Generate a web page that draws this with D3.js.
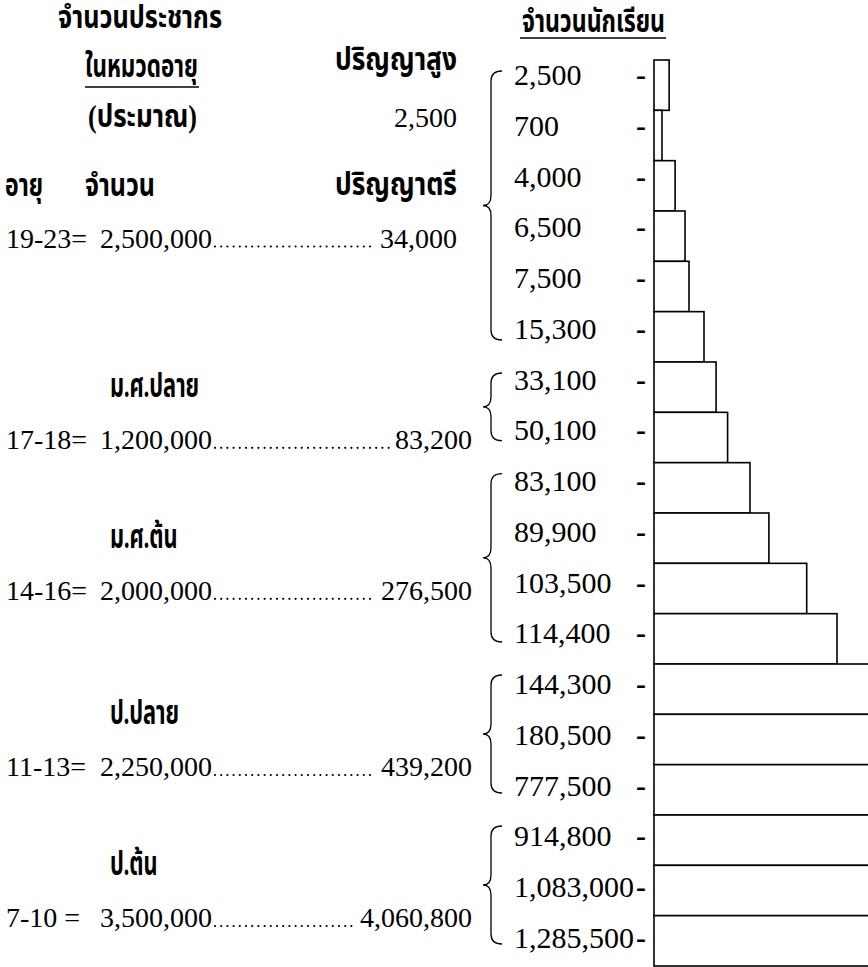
<!DOCTYPE html>
<html>
<head>
<meta charset="utf-8">
<script src="https://cdn.jsdelivr.net/npm/d3@7/dist/d3.min.js"></script>
<style>
	body { margin: 0; background: #fff; }
	text { fill: #000; font-family: "Liberation Serif", "Times New Roman", "Norasi", "Noto Serif Thai", "Noto Sans Thai", serif; }
	.th { font-family: "Liberation Serif", "Noto Sans Thai", "Noto Serif Thai", "Norasi", "Loma", "Garuda", sans-serif; font-weight: bold; }
</style>
</head>
<body>
<svg id="chart" width="868" height="967"></svg>
<script>
// จำนวนนักเรียน แต่ละชั้น (บนลงล่าง)
const students = [2500, 700, 4000, 6500, 7500, 15300, 33100, 50100, 83100, 89900,
	103500, 114400, 144300, 180500, 777500, 914800, 1083000, 1285500];
// วงเล็บปีกกา: แถวแรก-แถวสุดท้าย ของแต่ละกลุ่ม
const braceGroups = [[0, 5], [6, 7], [8, 11], [12, 14], [15, 17]];
// ตารางด้านซ้าย
const ageRanges = ["19-23=", "17-18=", "14-16=", "11-13=", "7-10 ="];
const population = [2500000, 1200000, 2000000, 2250000, 3500000];
const levels = ["ปริญญาตรี", "ม.ศ.ปลาย", "ม.ศ.ต้น", "ป.ปลาย", "ป.ต้น"];
const levelTotals = [34000, 83200, 276500, 439200, 4060800];
const postGrad = 2500;

const fmt = d3.format(",");
const svg = d3.select("#chart");

// rows
const rows = d3.range(students.length);
const yBar = d3.scaleBand().domain(rows).range([60, 966]).paddingInner(0);
const yLab = d3.scalePoint().domain(rows).range([85, 948]);
// the drawing uses a hand-made, non-linear width scale
const x = d3.scaleLinear()
	.domain([0, 700, 7500, 15300, 83100, 114400, 144300])
	.range([0, 8, 35, 50, 96, 183, 260]);
const barLeft = 654;

svg.append("g")
	.selectAll("rect")
	.data(students)
	.enter()
	.append("rect")
	.attr("x", barLeft)
	.attr("y", (d, i) => yBar(i))
	.attr("width", (d) => x(d))
	.attr("height", yBar.bandwidth())
	.attr("fill", "#fff")
	.attr("stroke", "#000")
	.attr("stroke-width", 1.6);

const lab = svg.append("g").attr("font-size", 30);
lab.selectAll("text.v")
	.data(students)
	.enter()
	.append("text")
	.attr("class", "v")
	.attr("x", 514)
	.attr("y", (d, i) => yLab(i))
	.text((d) => fmt(d));
lab.selectAll("text.dash")
	.data(students)
	.enter()
	.append("text")
	.attr("class", "dash")
	.attr("x", 636)
	.attr("y", (d, i) => yLab(i))
	.attr("font-weight", "bold")
	.text("-");

// braces
function bracePath(y0, y1) {
	const xe = 502, xs = 491, xt = 483, r = 10;
	const ym = (y0 + y1) / 2;
	return `M${xe},${y0} Q${xs},${y0} ${xs},${y0 + r} L${xs},${ym - r} Q${xs},${ym} ${xt},${ym}` +
		` Q${xs},${ym} ${xs},${ym + r} L${xs},${y1 - r} Q${xs},${y1} ${xe},${y1}`;
}
const braceTop = (g) => yBar(g[0]) + 11;
const braceBot = (g) => yBar(g[1]) + yBar.bandwidth() - 22;
const braceMid = braceGroups.map((g) => (braceTop(g) + braceBot(g)) / 2);
svg.append("g")
	.selectAll("path")
	.data(braceGroups)
	.enter()
	.append("path")
	.attr("d", (g) => bracePath(braceTop(g), braceBot(g)))
	.attr("fill", "none")
	.attr("stroke", "#000")
	.attr("stroke-width", 1.3);

// headers (thai text is drawn narrow, like the original typeface)
function th(t, xx, yy, len, anchor) {
	const el = svg.append("text").attr("class", "th")
		.attr("x", xx).attr("y", yy).attr("font-size", 31)
		.attr("text-anchor", anchor || "start").text(t);
	if (len) el.attr("textLength", len).attr("lengthAdjust", "spacingAndGlyphs");
	return el;
}
th("จำนวนประชากร", 58, 28, 164);
th("ในหมวดอายุ", 85, 77, 113);
svg.append("line").attr("x1", 85).attr("x2", 199).attr("y1", 87).attr("y2", 87)
	.attr("stroke", "#000").attr("stroke-width", 1.5);
th("(ประมาณ)", 88, 127, 109).attr("font-weight", "normal");
th("ปริญญาสูง", 335, 70, 122);
svg.append("text").attr("x", 457).attr("y", 127).attr("font-size", 28)
	.attr("text-anchor", "end").text(fmt(postGrad));
th("อายุ", 5, 196, 38);
th("จำนวน", 85, 196, 70);
th(levels[0], 335, 195, 122);
th("จำนวนนักเรียน", 522, 32, 143);
svg.append("line").attr("x1", 520).attr("x2", 666).attr("y1", 38).attr("y2", 38)
	.attr("stroke", "#000").attr("stroke-width", 1.5);

// left table rows
const left = svg.append("g").attr("font-size", 28);
ageRanges.forEach((a, i) => {
	const yy = braceMid[i] + 42;
	const right = i === 0 ? 457 : 472;
	left.append("text").attr("x", 6).attr("y", yy).text(a);
	const p = left.append("text").attr("x", 100).attr("y", yy).text(fmt(population[i]));
	const v = left.append("text").attr("x", right).attr("y", yy)
		.attr("text-anchor", "end").text(fmt(levelTotals[i]));
	const x0 = 100 + p.node().getComputedTextLength() + 3;
	const x1 = right - v.node().getComputedTextLength() - 5;
	left.append("line").attr("x1", x0).attr("x2", x1).attr("y1", yy - 1).attr("y2", yy - 1)
		.attr("stroke", "#000").attr("stroke-width", 2.2)
		.attr("stroke-linecap", "round").attr("stroke-dasharray", "0,6.2");
	if (i > 0) {
		svg.append("text").attr("class", "th").attr("font-size", 33)
			.attr("transform", `translate(110,${braceMid[i] - 10}) scale(0.66,1)`)
			.text(levels[i]);
	}
});
</script>
</body>
</html>
